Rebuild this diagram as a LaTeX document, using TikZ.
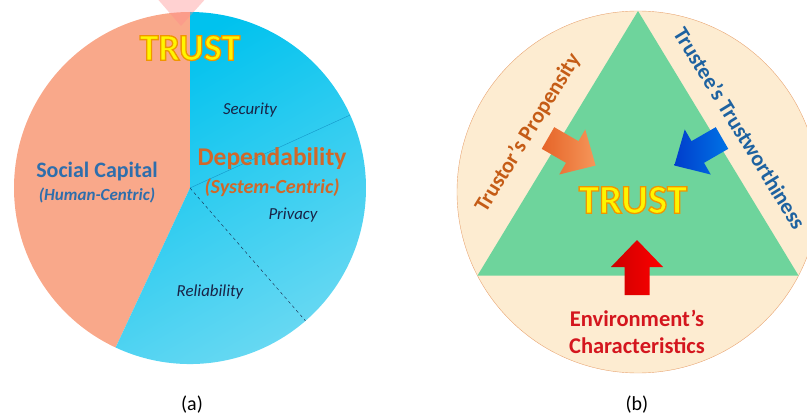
\documentclass[tikz,border=0pt]{standalone}
\usepackage{fontspec}
\setmainfont{Carlito}
\usetikzlibrary{positioning}

\definecolor{salmon}{RGB}{249,168,138}
\definecolor{skyA}{RGB}{0,194,238}
\definecolor{skyB}{RGB}{112,218,243}
\definecolor{skyline}{RGB}{20,150,200}
\definecolor{capblue}{RGB}{46,110,172}
\definecolor{deporange}{RGB}{208,104,42}
\definecolor{navy}{RGB}{25,35,70}
\definecolor{cream}{RGB}{253,236,209}
\definecolor{rimorange}{RGB}{232,165,115}
\definecolor{leaf}{RGB}{110,212,156}
\definecolor{propbrown}{RGB}{197,92,22}
\definecolor{worthblue}{RGB}{30,98,160}
\definecolor{envred}{RGB}{212,22,30}
\definecolor{trustyellow}{RGB}{255,245,0}
\definecolor{arrowA}{RGB}{230,100,40}
\definecolor{arrowB}{RGB}{245,150,90}

% yellow letters with an orange rim
\newcommand{\glowtext}[1]{\special{pdf:literal direct 2 Tr 1.3 w 0.94 0.59 0 RG}#1\special{pdf:literal direct 0 Tr}}

\tikzset{
  blockarrow/.pic={\shade[#1] (0,-12.5) -- (28,-12.5) -- (28,-26) -- (55,0) -- (28,26) -- (28,12.5) -- (0,12.5) -- cycle;}
}

\begin{document}
\begin{tikzpicture}[x=1pt, y=1pt,
    trustlabel/.style={text=trustyellow, font=\bfseries\fontsize{38}{40}\selectfont},
    headlabel/.style={font=\bfseries\fontsize{22}{26}\selectfont},
    sublabel/.style={font=\bfseries\itshape\fontsize{17}{20}\selectfont},
    partlabel/.style={text=navy, font=\itshape\fontsize{16.8}{19}\selectfont},
    caption/.style={font=\fontsize{20}{22}\selectfont}]
    \useasboundingbox (0,0) rectangle (807,416);

    % (a) pie
    \coordinate (pc) at (190,228);
    \fill[salmon] (pc) -- ++(90:176) arc[start angle=90, end angle=245, radius=176] -- cycle;
    \shade[top color=skyA, bottom color=skyB, shading angle=30]
        (pc) -- ++(245:176) arc[start angle=245, end angle=450, radius=176] -- cycle;
    \draw[skyline, thin] (pc) -- ++(24.5:176);
    \draw[navy, thin, dashed] (pc) -- ++(-49:176);
    \fill[red!45, opacity=0.4] (155,420) -- (208,420) -- (181,390) -- cycle;

    \node[trustlabel] (trustA) at (190,368) {\glowtext{TRUST}};
    \node[headlabel, text=capblue] (social) at (97,244) {Social Capital};
    \node[sublabel, text=capblue] (human) at (97,221) {(Human-Centric)};
    \node[headlabel, text=deporange, font=\bfseries\fontsize{25.5}{29}\selectfont] (depend) at (272,257) {Dependability};
    \node[sublabel, text=deporange, font=\bfseries\itshape\fontsize{20}{23}\selectfont] (system) at (272,228) {(System-Centric)};
    \node[partlabel] (security) at (250,306) {Security};
    \node[partlabel] (privacy) at (293,201) {Privacy};
    \node[partlabel] (reliab) at (210,124) {Reliability};
    \node[caption] (capA) at (192,11) {(a)};

    % (b) triangle
    \coordinate (rc) at (638,224);
    \draw[rimorange, fill=cream, thin] (rc) circle[radius=181];
    \path (rc) ++(90:181) coordinate (apex)
          (rc) ++(207.5:181) coordinate (bl)
          (rc) ++(332.5:181) coordinate (br);
    \fill[leaf] (apex) -- (bl) -- (br) -- cycle;

    \pic[rotate=-30] at (548,278) {blockarrow={left color=arrowA, right color=arrowB}};
    \pic[rotate=-150] at (722,278) {blockarrow={left color=blue!70!cyan!80!black, right color=blue!50!cyan!90!black}};
    \pic[rotate=90] at (637,121) {blockarrow={left color=red!80!black, right color=red}};

    \node[trustlabel, font=\bfseries\fontsize{41}{44}\selectfont] (trustB) at (633,216) {\glowtext{TRUST}};
    \node[headlabel, text=propbrown, rotate=58.5] (propensity) at (528,283) {Trustor’s Propensity};
    \node[headlabel, text=worthblue, rotate=-58.5] (worthiness) at (740,288) {Trustee’s Trustworthiness};
    \node[headlabel, text=envred, align=center, font=\bfseries\fontsize{22.5}{27}\selectfont] (environment) at (637,84) {Environment’s\\Characteristics};
    \node[caption] (capB) at (637,11) {(b)};
\end{tikzpicture}
\end{document}
